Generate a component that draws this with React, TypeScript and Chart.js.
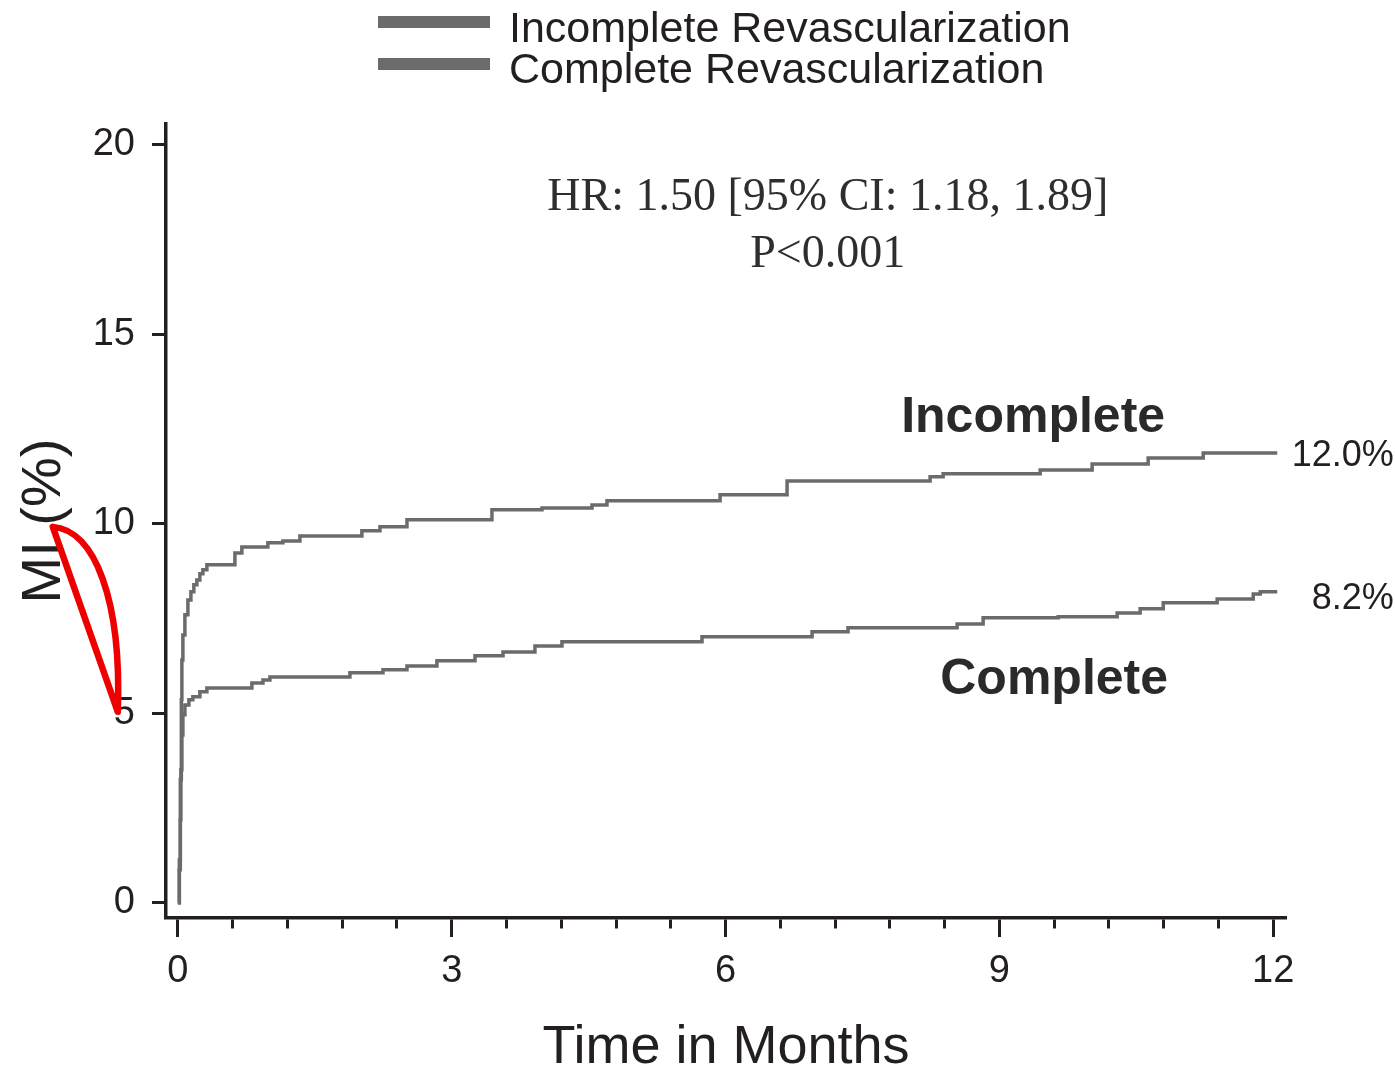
import React, { useEffect, useRef } from 'react';
import { Chart, registerables } from 'chart.js';

Chart.register(...registerables);

// ---------- data ----------
const seriesLabels = ['Incomplete Revascularization', 'Complete Revascularization'];
const curveLabels = ['Incomplete', 'Complete'];
const endLabels = ['12.0%', '8.2%'];
const statLines = ['HR: 1.50 [95% CI: 1.18, 1.89]', 'P<0.001'];

// step start times (months) and cumulative MI (%) for each curve
const incompleteMonths = [0, 0.016, 0.027, 0.038, 0.044, 0.055, 0.077, 0.11, 0.143, 0.175, 0.208, 0.241, 0.274, 0.318, 0.625, 0.701, 0.986, 1.151, 1.337, 2.016, 2.214, 2.51, 3.441, 3.989, 4.537, 4.701, 5.94, 6.674, 8.241, 8.384, 9.447, 10.016, 10.63, 11.233, 12.044];
const incompleteMI = [0, 1.13, 3.25, 5.36, 6.41, 7.07, 7.6, 7.99, 8.21, 8.39, 8.52, 8.68, 8.79, 8.92, 9.23, 9.39, 9.5, 9.55, 9.68, 9.82, 9.92, 10.11, 10.37, 10.42, 10.5, 10.61, 10.77, 11.13, 11.24, 11.32, 11.42, 11.58, 11.74, 11.87, 11.87];

const completeMonths = [0, 0.016, 0.027, 0.033, 0.044, 0.055, 0.077, 0.121, 0.164, 0.241, 0.318, 0.811, 0.932, 1.008, 1.885, 2.247, 2.51, 2.838, 3.255, 3.562, 3.912, 4.208, 5.742, 6.948, 7.342, 8.537, 8.822, 9.644, 10.29, 10.542, 10.795, 11.386, 11.781, 11.858, 12.044];
const completeMI = [0, 0.87, 2.19, 3.51, 4.43, 4.96, 5.22, 5.36, 5.44, 5.57, 5.67, 5.8, 5.88, 5.96, 6.07, 6.15, 6.25, 6.39, 6.52, 6.62, 6.78, 6.89, 7.02, 7.15, 7.26, 7.36, 7.52, 7.55, 7.65, 7.76, 7.92, 8.02, 8.15, 8.21, 8.21];

const xTickValues = [0, 0.6, 1.2, 1.8, 2.4, 3, 3.6, 4.2, 4.8, 5.4, 6, 6.6, 7.2, 7.8, 8.4, 9, 9.6, 10.2, 10.8, 11.4, 12];
const xMajorTicks = [0, 3, 6, 9, 12];
const yTickValues = [0, 5, 10, 15, 20];

const xTitle = 'Time in Months';
const yTitle = 'MI (%)';

// ---------- styles ----------
const SANS = '"Liberation Sans", Arial, Helvetica, sans-serif';
const SERIF = '"Liberation Serif", "Times New Roman", serif';
const INK = '#231f20';
const LINE = '#6b6b6b';

const overlayPlugin = {
  id: 'overlay',
  afterDraw(chart: any) {
    const { ctx } = chart;
    const xs = chart.scales.x;
    const ys = chart.scales.y;
    const X = (v: number) => xs.getPixelForValue(v);
    const Y = (v: number) => ys.getPixelForValue(v);
    ctx.save();

    // legend (stacked, left aligned)
    const rowsBox = [22, 64];
    const rowsText = [42, 83];
    seriesLabels.forEach((label, i) => {
      ctx.fillStyle = LINE;
      ctx.fillRect(378, rowsBox[i] - 6, 112, 12);
      ctx.fillStyle = INK;
      ctx.font = `43px ${SANS}`;
      ctx.textAlign = 'left';
      ctx.textBaseline = 'alphabetic';
      ctx.fillText(label, 509, rowsText[i]);
    });

    // statistics text
    ctx.fillStyle = '#2e2e2e';
    ctx.font = `46px ${SERIF}`;
    ctx.textAlign = 'center';
    ctx.textBaseline = 'middle';
    ctx.fillText(statLines[0], X(7.12), Y(18.6));
    ctx.fillText(statLines[1], X(7.12), Y(17.1));

    // curve labels
    ctx.fillStyle = '#2a2a2a';
    ctx.font = `bold 50px ${SANS}`;
    ctx.fillText(curveLabels[0], X(9.37), Y(12.8));
    ctx.fillText(curveLabels[1], X(9.6), Y(5.88));

    // end-of-curve percentages
    ctx.fillStyle = INK;
    ctx.font = `36px ${SANS}`;
    ctx.textAlign = 'right';
    ctx.fillText(endLabels[0], X(13.32), Y(11.8));
    ctx.fillText(endLabels[1], X(13.32), Y(8.02));

    // red hand-drawn loop near the y axis
    ctx.strokeStyle = '#ee0000';
    ctx.lineWidth = 6.5;
    ctx.lineJoin = 'round';
    ctx.lineCap = 'round';
    ctx.beginPath();
    ctx.moveTo(X(-1.37), Y(9.92));
    ctx.bezierCurveTo(X(-0.91), Y(9.84), X(-0.614), Y(7.99), X(-0.658), Y(5.04));
    ctx.lineTo(X(-1.37), Y(9.92));
    ctx.closePath();
    ctx.stroke();

    ctx.restore();
  },
};

export default function App() {
  const ref = useRef<HTMLCanvasElement | null>(null);

  useEffect(() => {
    document.body.style.margin = '0';
    document.body.style.overflow = 'hidden';
    const canvas = ref.current;
    if (!canvas) return;
    const chart = new Chart(canvas, {
      type: 'line',
      data: {
        datasets: [
          {
            label: seriesLabels[0],
            data: incompleteMonths.map((m, i) => ({ x: m, y: incompleteMI[i] })),
            borderColor: LINE,
            backgroundColor: LINE,
            borderWidth: 3.5,
            stepped: 'before',
            pointRadius: 0,
            fill: false,
          },
          {
            label: seriesLabels[1],
            data: completeMonths.map((m, i) => ({ x: m, y: completeMI[i] })),
            borderColor: LINE,
            backgroundColor: LINE,
            borderWidth: 3.5,
            stepped: 'before',
            pointRadius: 0,
            fill: false,
          },
        ],
      },
      options: {
        animation: false,
        responsive: false,
        devicePixelRatio: 1,
        layout: { padding: { top: 124, right: 109, bottom: 0, left: 0 } },
        plugins: {
          legend: { display: false },
          tooltip: { enabled: false },
          title: { display: false },
        },
        scales: {
          x: {
            type: 'linear',
            min: -0.13,
            max: 12.14,
            afterBuildTicks: (s: any) => {
              s.ticks = xTickValues.map((value) => ({ value }));
            },
            afterFit: (s: any) => {
              s.height = 154;
            },
            ticks: {
              autoSkip: false,
              maxRotation: 0,
              padding: 12,
              color: INK,
              font: { family: SANS, size: 38 },
              callback: (v: any) => (xMajorTicks.includes(Number(v)) ? String(v) : ''),
            },
            grid: {
              display: true,
              drawOnChartArea: false,
              drawTicks: true,
              tickLength: 19,
              tickWidth: 3,
              tickColor: INK,
              tickBorderDash: (c: any) =>
                c.tick && xMajorTicks.includes(c.tick.value) ? [] : [9, 40],
            },
            border: { display: true, color: INK, width: 3.5 },
            title: {
              display: true,
              text: xTitle,
              color: INK,
              font: { family: SANS, size: 54, lineHeight: 1 },
              padding: { top: 0, bottom: -3 },
            },
          },
          y: {
            type: 'linear',
            min: -0.4,
            max: 20.55,
            afterBuildTicks: (s: any) => {
              s.ticks = yTickValues.map((value) => ({ value }));
            },
            afterFit: (s: any) => {
              s.width = 166;
            },
            ticks: {
              padding: 17,
              color: INK,
              font: { family: SANS, size: 38 },
            },
            grid: {
              display: true,
              drawOnChartArea: false,
              drawTicks: true,
              tickLength: 14,
              tickWidth: 3,
              tickColor: INK,
            },
            border: { display: true, color: INK, width: 3.5 },
            title: {
              display: true,
              text: yTitle,
              color: INK,
              font: { family: SANS, size: 56 },
              padding: { top: 11, bottom: 0 },
            },
          },
        },
      },
      plugins: [overlayPlugin],
    } as any);
    return () => chart.destroy();
  }, []);

  return <canvas ref={ref} width={1395} height={1072} style={{ display: 'block' }} />;
}
